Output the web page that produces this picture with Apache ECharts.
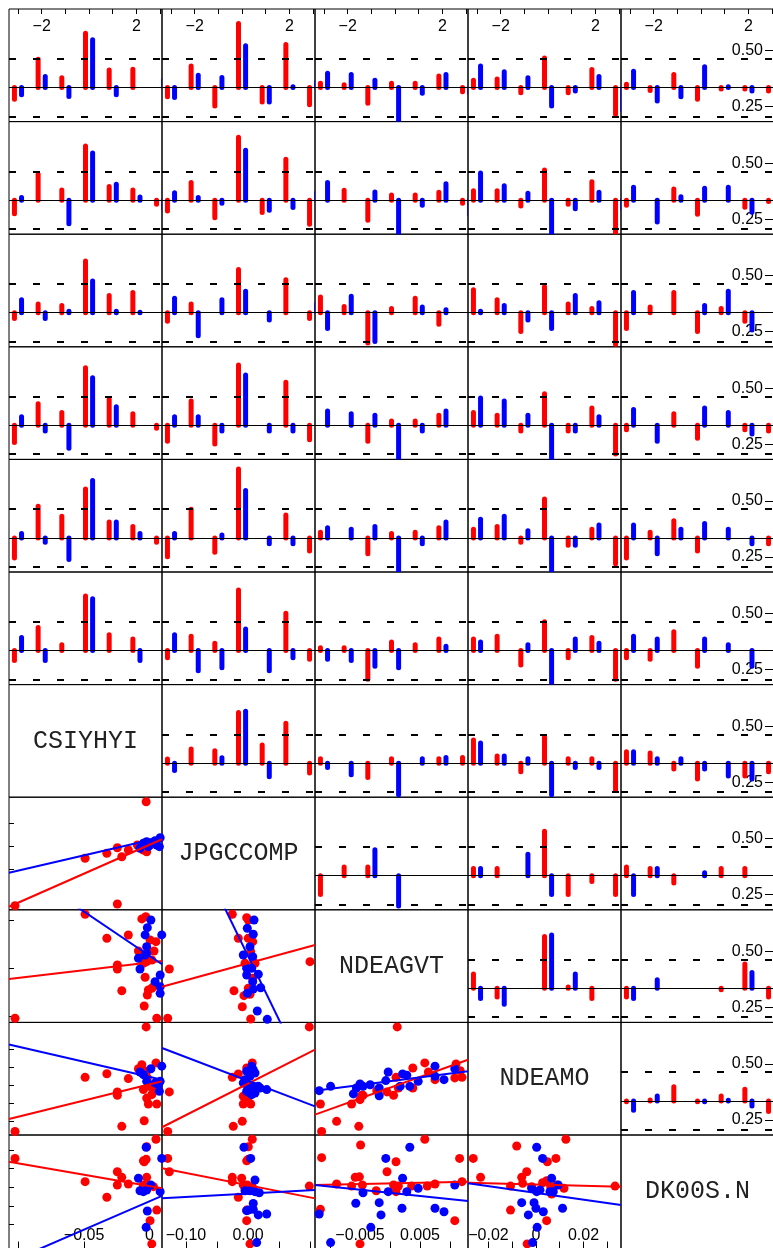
<!DOCTYPE html>
<html>
<head>
<meta charset="utf-8">
<script src="https://cdn.jsdelivr.net/npm/echarts@6/dist/echarts.min.js"></script>
<style>
  html, body { margin: 0; padding: 0; background: #fff; }
  #chart { width: 773px; height: 1248px; }
</style>
</head>
<body>
<div id="chart"></div>
<script>
// ---- cross-correlation sticks, lags -3..3 (red = first sample, blue = second sample) ----
const lags = [-3, -2, -1, 0, 1, 2, 3];

const r1c1Red = [-0.41, 0.98, 0.34, 1.89, 0.61, 0.64, 0.0];
const r1c1Blue = [-0.25, 0.38, -0.31, 1.66, -0.25, 0.0, 0.26];
const r1c2Red = [-0.32, 0.75, -0.64, 2.23, -0.5, 1.5, -0.6];
const r1c2Blue = [-0.35, 0.43, 0.35, 1.45, -0.5, 0.03, 0.2];
const r1c3Red = [0.15, 0.1, -0.55, 0.15, 0.15, 0.4, -0.15];
const r1c3Blue = [0.5, 0.45, 0.25, -1.3, -0.2, 0.45, -0.2];
const r1c4Red = [0.25, 0.3, -0.18, 1.03, -0.18, 0.63, -0.93];
const r1c4Blue = [0.75, 0.55, 0.34, -0.64, -0.12, 0.38, -0.8];
const r1c5Red = [0.11, -0.1, 0.45, -0.41, -0.05, -0.05, -0.12];
const r1c5Blue = [0.57, -0.47, -0.32, 0.72, 0.03, -0.12, 0.0];

const r2c1Red = [-0.47, 0.9, 0.35, 1.88, 0.47, 0.35, -0.14];
const r2c1Blue = [0.09, 0.0, -0.82, 1.64, 0.55, 0.11, -0.3];
const r2c2Red = [-0.38, 0.61, -0.61, 2.19, -0.43, 1.42, -0.84];
const r2c2Blue = [0.26, 0.09, -0.11, 1.73, -0.35, -0.26, 0.26];
const r2c3Red = [0.0, 0.34, -0.7, 0.18, 0.18, 0.27, -0.11];
const r2c3Blue = [0.61, 0.0, 0.28, -1.3, -0.18, 0.57, -0.5];
const r2c4Red = [0.33, 0.33, -0.2, 1.05, -0.14, 0.64, -1.3];
const r2c4Blue = [0.94, 0.5, 0.24, -1.3, -0.3, 0.27, -0.3];
const r2c5Red = [-0.18, 0.0, 0.39, -0.49, 0.0, -0.25, -0.05];
const r2c5Blue = [0.45, -0.76, 0.12, 0.41, 0.45, -0.42, 0.0];

const r3c1Red = [-0.2, 0.3, 0.25, 1.8, 0.6, 0.7, 0.0];
const r3c1Blue = [0.45, -0.2, 0.05, 1.1, 0.05, 0.02, 0.0];
const r3c2Red = [-0.3, 0.3, 0.0, 1.5, 0.0, 1.15, -0.2];
const r3c2Blue = [0.5, -0.8, 0.45, 0.75, -0.25, 0.0, 0.3];
const r3c3Red = [0.55, 0.22, -1.05, 0.15, 0.5, -0.4, 0.0];
const r3c3Blue = [-0.55, 0.57, -1.0, 0.0, 0.2, 0.1, 0.0];
const r3c4Red = [0.8, 0.45, -0.65, 0.9, 0.3, 0.15, -1.1];
const r3c4Blue = [0.05, 0.25, -0.25, -0.55, 0.6, 0.35, 0.0];
const r3c5Red = [-0.55, 0.2, 0.7, -0.65, 0.15, -0.3, 0.0];
const r3c5Blue = [0.7, 0.0, 0.0, 0.25, 0.75, -0.6, 0.0];

const r4c1Red = [-0.6, 0.75, 0.45, 2.0, 0.9, 0.4, -0.1];
const r4c1Blue = [0.3, -0.2, -0.8, 1.65, 0.65, 0.0, 0.0];
const r4c2Red = [-0.55, 0.85, -0.65, 2.1, 0.0, 1.5, -0.5];
const r4c2Blue = [0.3, 0.3, -0.2, 1.75, -0.2, -0.2, 0.0];
const r4c3Red = [0.0, 0.0, -0.55, 0.15, 0.15, 0.35, 0.0];
const r4c3Blue = [0.5, 0.4, 0.35, -1.3, -0.2, 0.5, 0.0];
const r4c4Red = [0.45, 0.35, -0.2, 1.1, -0.2, 0.6, -1.0];
const r4c4Blue = [0.95, 0.85, 0.35, -1.3, -0.2, 0.3, 0.0];
const r4c5Red = [-0.15, 0.0, 0.4, -0.45, 0.0, -0.15, -0.2];
const r4c5Blue = [0.55, -0.55, 0.0, 0.6, 0.45, -0.3, 0.0];

const r5c1Red = [-0.7, 1.1, 0.75, 1.7, 0.55, 0.4, -0.15];
const r5c1Blue = [0.15, -0.15, -0.75, 2.0, 0.55, 0.15, 0.0];
const r5c2Red = [-0.65, 1.0, -0.5, 2.4, 0.0, 0.8, -0.45];
const r5c2Blue = [0.15, 0.0, 0.1, 1.65, -0.2, -0.2, 0.0];
const r5c3Red = [0.2, 0.0, -0.55, 0.15, 0.2, 0.35, 0.0];
const r5c3Blue = [0.35, 0.3, 0.4, -1.3, -0.2, 0.55, 0.0];
const r5c4Red = [0.3, 0.4, -0.15, 1.35, -0.25, 0.3, -0.9];
const r5c4Blue = [0.65, 0.75, 0.25, -1.3, -0.25, 0.45, 0.0];
const r5c5Red = [-0.7, 0.2, 0.6, -0.45, 0.0, 0.0, -0.2];
const r5c5Blue = [0.45, -0.55, 0.3, 0.5, 0.3, -0.2, 0.0];

const r6c1Red = [-0.35, 0.8, 0.2, 1.9, 0.55, 0.4, 0.0];
const r6c1Blue = [0.45, -0.35, 0.0, 1.8, 0.0, -0.35, 0.0];
const r6c2Red = [-0.25, 0.5, 0.25, 2.1, 0.0, 1.3, -0.3];
const r6c2Blue = [0.55, -0.7, -0.6, 0.75, -0.7, -0.25, 0.0];
const r6c3Red = [0.1, 0.1, -1.0, 0.3, 0.2, 0.4, 0.0];
const r6c3Blue = [-0.3, -0.35, -0.55, -0.6, 0.0, 0.15, 0.0];
const r6c4Red = [0.4, 0.5, -0.5, 1.0, -0.25, 0.45, -1.0];
const r6c4Blue = [0.3, 0.0, 0.2, -1.3, 0.4, 0.25, 0.0];
const r6c5Red = [-0.25, -0.3, 0.65, -0.55, 0.0, 0.0, 0.0];
const r6c5Blue = [0.5, 0.4, 0.0, 0.4, 0.2, -0.55, 0.0];

const r7c2Red = [0.14, 0.49, 0.43, 1.76, 0.63, 1.39, -0.34];
const r7c2Blue = [-0.26, 0.0, 0.19, 1.8, -0.47, 0.0, 0.0];
const r7c3Red = [0.15, 0.0, -0.5, 0.15, 0.0, 0.15, 0.2];
const r7c3Blue = [-0.15, -0.4, 0.0, -1.1, 0.15, 0.2, 0.0];
const r7c4Red = [0.8, 0.25, -0.3, 0.9, 0.15, 0.15, -0.95];
const r7c4Blue = [0.7, 0.25, 0.15, -1.1, -0.15, -0.15, 0.0];
const r7c5Red = [0.4, 0.35, -0.2, -0.55, 0.0, -0.45, -0.3];
const r7c5Blue = [0.4, 0.15, 0.15, -0.2, -0.45, -0.55, 0.0];

const r8c3Red = [-0.65, 0.3, 0.3, 0.0, 0.0, 0.0, 0.0];
const r8c3Blue = [0.0, 0.0, 0.9, -1.05, 0.0, 0.0, 0.0];
const r8c4Red = [0.25, 0.25, 0.0, 1.55, -0.65, -0.2, -0.65];
const r8c4Blue = [0.25, 0.0, 0.75, -0.65, 0.0, 0.0, 0.0];
const r8c5Red = [0.3, 0.25, -0.25, 0.0, 0.25, 0.25, 0.0];
const r8c5Blue = [-0.65, 0.25, 0.0, 0.1, 0.0, 0.0, 0.0];

const r9c4Red = [0.5, -0.3, 0.0, 1.8, 0.05, -0.35, 0.0];
const r9c4Blue = [-0.35, -0.55, 0.0, 1.85, 0.5, 0.0, 0.0];
const r9c5Red = [-0.3, 0.0, 0.0, 0.0, -0.05, 0.85, -0.3];
const r9c5Blue = [-0.35, 0.3, 0.0, 0.0, 0.0, 0.55, 0.0];

const r10c5Red = [-0.03, 0.03, 0.49, -0.03, 0.17, 0.41, -0.37];
const r10c5Blue = [-0.32, 0.17, 0.0, -0.03, 0.02, -0.18, 0.0];

// ---- scatter panels: [x, y] pairs and fitted lines [x0, y0, x1, y1] (red, blue) ----
const s8c1Red = [[-0.0026,0.0963],[-0.1027,-0.1298],[-0.0246,-0.1261],[-0.0492,-0.0267],[-0.0326,-0.0159],[-0.0246,-0.0037],[-0.0212,-0.0233],[-0.0162,-0.0087],[-0.0093,0.0022],[-0.0047,-0.0087],[-0.0022,-0.0124],[0.0004,0.0022],[-0.0073,-0.0015]];
const s8c1Blue = [[-0.0047,0.0059],[-0.0022,0.0093],[0.001,0.0072],[0.0042,0.0115],[0.0081,0.018],[0.0075,-0.0015],[0.0055,0.0022],[-0.0073,-0.005],[-0.0009,-0.0015]];
const s8c1Fit = [[-0.1073,-0.132,0.0095,0.0146],[-0.1073,-0.058,0.0095,0.0189]];

const s9c1Red = [[-0.1027,-0.01035],[-0.0492,0.01118],[-0.0326,0.00621],[-0.0162,0.00689],[-0.0246,0.00068],[-0.0246,-0.00014],[-0.0212,-0.00464],[-0.0059,0.01021],[-0.0029,0.01068],[0.0004,0.00586],[0.0049,0.00551],[0.0034,0.00358],[-0.0085,0.00358],[-0.0047,0.00104],[-0.0022,0.00137],[0.0017,0.00172],[-0.0034,-0.00186],[-0.0009,-0.00449],[0.0017,-0.00414],[-0.0017,-0.00553],[0.003,-0.00381],[-0.0041,-0.0078],[0.0055,-0.01035]];
const s9c1Blue = [[0.001,0.01],[-0.0017,0.0084],[-0.0034,0.0069],[-0.0022,0.00447],[-0.0034,0.00275],[-0.0085,0.00207],[-0.0022,0.00311],[-0.0073,-0.00014],[0.0093,0.0069],[0.0081,-0.00139],[0.0042,-0.00277],[0.0081,-0.00381],[0.0081,-0.00518]];
const s9c1Fit = [[-0.1073,-0.00222,0.0095,0.00151],[-0.1073,0.0222,0.0095,0.00083]];

const s9c2Red = [[-0.1269,-0.00014],[-0.1295,-0.01035],[-0.0253,0.01118],[-0.0021,0.01048],[0.0005,0.01],[-0.0156,0.00621],[0.0005,0.00621],[0.0076,0.00551],[0.0044,0.00344],[-0.0048,0.00104],[0.0113,0.00104],[-0.0226,-0.00464],[-0.0065,-0.00567],[0.0005,-0.00414],[0.0032,-0.00538],[-0.0092,-0.00795],[0.0044,-0.0105],[0.1,0.00137],[0.0076,-0.00207]];
const s9c2Blue = [[0.0097,0.01],[-0.0011,0.00828],[0.0085,0.00704],[0.0032,0.00447],[-0.0076,0.00275],[0.0076,0.0024],[-0.0021,0.0],[0.006,0.0],[-0.0021,-0.00139],[0.0166,-0.00124],[0.0076,-0.00277],[0.0205,-0.00402],[0.0085,-0.00429],[-0.0011,-0.00518],[0.015,-0.00884],[0.0311,-0.01056]];
const s9c2Fit = [[-0.1387,-0.00381,0.1081,0.00482],[-0.1387,0.0392,0.1081,-0.026]];

const s10c1Red = [[-0.0026,0.0324],[-0.1027,-0.0256],[-0.0492,0.0044],[-0.0326,0.0064],[-0.0162,0.0037],[-0.0246,-0.0037],[-0.0246,-0.0056],[-0.0212,-0.0228],[-0.0041,-0.0197],[-0.0059,0.0114],[0.0049,0.0124],[-0.0085,0.0092],[-0.0022,0.0078],[-0.0047,-0.0024],[-0.0009,-0.0006],[0.003,-0.0024],[-0.0022,-0.0071],[0.0017,-0.0052],[-0.0009,-0.0104],[0.0055,-0.0104],[-0.0017,0.0041]];
const s10c1Blue = [[-0.0073,0.0074],[-0.0047,0.0059],[0.001,0.0092],[-0.0022,0.0022],[0.0042,0.0013],[0.0067,0.0003],[0.0093,0.0106],[0.0075,-0.0033],[0.0081,0.0022]];
const s10c1Fit = [[-0.1073,-0.0187,0.0095,0.0022],[-0.1073,0.0226,0.0095,0.0031]];

const s10c2Red = [[0.0989,0.0324],[-0.1269,-0.0037],[-0.1295,-0.0256],[-0.0253,0.0044],[-0.0156,0.0063],[-0.0237,-0.0228],[-0.0092,-0.02],[0.0069,0.0124],[-0.0021,0.0096],[0.0032,0.0078],[-0.0076,-0.0061],[0.0005,-0.0067],[-0.0076,-0.0104],[0.0044,-0.0104],[-0.0021,0.0003]];
const s10c2Blue = [[0.006,0.0106],[-0.0021,0.0078],[0.0085,0.0087],[-0.0048,0.0031],[0.0032,0.005],[0.0113,0.0068],[-0.0076,0.0013],[0.0005,0.0003],[0.0085,-0.0006],[0.0166,-0.0006],[0.0302,-0.0024],[0.0194,-0.0015],[0.0032,-0.0043],[-0.0021,-0.0033],[0.0113,-0.0043],[0.006,-0.0052]];
const s10c2Fit = [[-0.1387,-0.0233,0.1081,0.0198],[-0.1387,0.0207,0.1081,-0.0117]];

const s10c3Red = [[0.0012,0.0324],[-0.0114,-0.0256],[-0.0116,-0.0104],[-0.0089,-0.02],[-0.0052,-0.0228],[-0.0064,-0.0104],[-0.0047,-0.0056],[-0.005,-0.008],[-0.0045,-0.0056],[-0.0022,-0.003],[-0.0005,-0.0037],[0.0006,-0.0056],[0.001,0.0044],[0.0014,-0.0015],[0.0038,0.0096],[0.0038,-0.0015],[0.0058,0.0124],[0.0064,0.0074],[0.0075,0.0031],[0.011,0.0118],[0.0108,0.0041],[0.012,0.0044],[0.0117,0.0081]];
const s10c3Blue = [[-0.0118,-0.003],[-0.0099,-0.0006],[-0.0061,-0.0048],[-0.0056,-0.0015],[-0.005,0.0007],[-0.0045,-0.0006],[-0.0033,0.0003],[-0.0018,-0.0015],[-0.0018,-0.0058],[-0.0007,0.0026],[-0.0003,0.0074],[0.0021,0.0063],[0.0028,0.0056],[0.0033,-0.0006],[0.0047,0.0022],[0.0075,0.0106],[0.0075,0.005],[0.009,0.0031],[0.0108,0.0092],[0.0017,-0.0006]];
const s10c3Fit = [[-0.0125,-0.0163,0.013,0.0142],[-0.0125,-0.003,0.013,0.0078]];

const s11c1Red = [[-0.1027,0.0155],[0.0049,0.0258],[-0.0022,0.0218],[-0.0047,0.0142],[-0.0026,0.015],[-0.0041,0.0137],[-0.0246,0.0083],[-0.0212,0.0053],[-0.0492,0.003],[-0.0246,0.0012],[-0.0162,0.0017],[-0.0022,0.0053],[-0.0047,0.0012],[-0.0009,0.0012],[0.003,0.0003],[-0.0326,-0.0054],[0.0055,-0.0123],[0.0004,-0.018],[0.0017,-0.0305]];
const s11c1Blue = [[-0.0026,0.0215],[0.0093,0.0155],[-0.0085,0.0048],[0.001,0.0012],[-0.0073,-0.0019],[-0.0047,-0.0024],[-0.0022,-0.0015],[0.0081,-0.0024],[0.0098,-0.0101],[-0.0017,-0.0128],[-0.0026,-0.0216]];
const s11c1Fit = [[-0.1073,0.0137,0.0095,-0.0006],[-0.1073,-0.0403,0.0095,-0.0047]];

const s11c2Red = [[-0.1295,0.0155],[-0.1269,0.0083],[0.0069,0.0258],[0.0005,0.0218],[-0.0021,0.0142],[0.0005,0.015],[-0.0253,0.0053],[-0.0102,0.0048],[-0.0253,0.003],[-0.0076,0.0012],[-0.0011,0.0012],[-0.0156,-0.0054],[0.0069,0.0003],[-0.0021,-0.0123],[-0.0021,-0.018],[0.0032,-0.0305],[0.0989,0.0006]];
const s11c2Blue = [[-0.0065,0.0215],[0.0044,0.0155],[0.0113,0.0039],[-0.0048,-0.0019],[0.0032,-0.0019],[0.0113,-0.0024],[0.0182,-0.003],[0.0085,-0.0087],[0.0005,-0.0123],[0.0085,-0.0119],[0.0166,-0.0149],[0.0302,-0.0144],[-0.0021,-0.0126],[0.014,-0.0298]];
const s11c2Fit = [[-0.1387,0.0102,0.1081,-0.006],[-0.1387,-0.006,0.1081,-0.0015]];

const s11c3Red = [[-0.0114,0.0159],[-0.0116,-0.0119],[-0.0049,0.0227],[0.0058,0.0258],[0.001,0.0137],[-0.0005,0.0083],[-0.0058,0.0053],[-0.0051,0.0056],[-0.0089,0.0017],[-0.0064,0.0006],[-0.0046,0.0012],[-0.0023,-0.0019],[0.0006,0.0012],[0.0014,0.0006],[0.001,-0.0024],[0.0036,0.0006],[0.0062,0.0006],[0.0075,0.0017],[0.0116,0.0155],[0.012,0.003],[0.0108,-0.018],[-0.005,-0.0305]];
const s11c3Blue = [[0.0033,0.0215],[-0.0007,0.0155],[0.0021,0.0048],[-0.0045,-0.003],[-0.0003,-0.0024],[0.0028,-0.0024],[0.0047,-0.0006],[-0.0018,-0.0083],[-0.0057,-0.0086],[0.002,-0.0113],[-0.0015,-0.0149],[0.0075,-0.0113],[0.009,-0.0132],[0.0108,0.0012],[-0.0032,-0.0216],[-0.0099,-0.0298],[-0.0118,-0.0144]];
const s11c3Fit = [[-0.0125,0.0012,0.013,0.003],[-0.0125,0.0012,0.013,-0.0074]];

const s11c4Red = [[-0.0264,0.0155],[-0.0233,0.0053],[-0.0081,0.0222],[0.0126,0.0258],[0.0048,0.0137],[0.0084,0.0155],[-0.0039,0.0083],[-0.006,0.0053],[-0.0107,0.0006],[-0.0056,0.0021],[-0.0018,0.0003],[0.0028,0.0024],[0.0045,0.0035],[0.0062,0.0003],[0.0087,0.0012],[0.0118,-0.0006],[0.0066,-0.0037],[-0.0107,-0.0123],[0.0045,-0.018],[0.0333,0.0006],[-0.0037,-0.0305]];
const s11c4Blue = [[0.0003,0.0215],[0.0028,0.0155],[0.0066,0.0048],[0.0094,0.0012],[0.0073,-0.0024],[0.0059,-0.0024],[0.0003,-0.0024],[-0.0018,-0.0006],[-0.006,-0.0083],[-0.0008,-0.0083],[0.0,-0.0113],[0.0031,-0.0132],[-0.0032,-0.0149],[0.0112,-0.0113],[0.0017,-0.0015],[0.0005,-0.0216],[-0.0014,-0.0298]];
const s11c4Fit = [[-0.0286,0.0024,0.0358,0.0003],[-0.0286,0.0021,0.0358,-0.0096]];

// ---- variable names on the diagonal ----
const diagNames = ['CSIYHYI', 'JPGCCOMP', 'NDEAGVT', 'NDEAMO', 'DK00S.N'];

// ---- axis ticks and labels ----
const topLabelVals = [-2, 2];
const topLabelText = ['\u22122', '2'];
const rightLabelVals = [0.25, 0.5];
const rightLabelText = ['0.25', '0.50'];
const colTicks = [[-0.1, -0.05, 0], [-0.1, -0.05, 0, 0.05, 0.1], [-0.01, -0.005, 0, 0.005, 0.01], [-0.02, -0.01, 0, 0.01, 0.02, 0.03]];
const colLabelVals = [[-0.05, 0], [-0.1, 0], [-0.005, 0.005], [-0.02, 0, 0.02]];
const colLabelText = [['\u22120.05', '0'], ['\u22120.10', '0.00'], ['\u22120.005', '0.005'], ['\u22120.02', '0', '0.02']];
const rowTicks8 = [-0.05, 0, 0.05];
const rowTicks9 = [-0.01, 0, 0.01];
const rowTicks10 = [-0.02, -0.01, 0, 0.01, 0.02];
const rowTicks11 = [-0.02, -0.01, 0, 0.01, 0.02];

// ---- panel tables built from the arrays above ----
const barPanels = [
  [1,1,r1c1Red,r1c1Blue],[1,2,r1c2Red,r1c2Blue],[1,3,r1c3Red,r1c3Blue],[1,4,r1c4Red,r1c4Blue],[1,5,r1c5Red,r1c5Blue],
  [2,1,r2c1Red,r2c1Blue],[2,2,r2c2Red,r2c2Blue],[2,3,r2c3Red,r2c3Blue],[2,4,r2c4Red,r2c4Blue],[2,5,r2c5Red,r2c5Blue],
  [3,1,r3c1Red,r3c1Blue],[3,2,r3c2Red,r3c2Blue],[3,3,r3c3Red,r3c3Blue],[3,4,r3c4Red,r3c4Blue],[3,5,r3c5Red,r3c5Blue],
  [4,1,r4c1Red,r4c1Blue],[4,2,r4c2Red,r4c2Blue],[4,3,r4c3Red,r4c3Blue],[4,4,r4c4Red,r4c4Blue],[4,5,r4c5Red,r4c5Blue],
  [5,1,r5c1Red,r5c1Blue],[5,2,r5c2Red,r5c2Blue],[5,3,r5c3Red,r5c3Blue],[5,4,r5c4Red,r5c4Blue],[5,5,r5c5Red,r5c5Blue],
  [6,1,r6c1Red,r6c1Blue],[6,2,r6c2Red,r6c2Blue],[6,3,r6c3Red,r6c3Blue],[6,4,r6c4Red,r6c4Blue],[6,5,r6c5Red,r6c5Blue],
  [7,2,r7c2Red,r7c2Blue],[7,3,r7c3Red,r7c3Blue],[7,4,r7c4Red,r7c4Blue],[7,5,r7c5Red,r7c5Blue],
  [8,3,r8c3Red,r8c3Blue],[8,4,r8c4Red,r8c4Blue],[8,5,r8c5Red,r8c5Blue],
  [9,4,r9c4Red,r9c4Blue],[9,5,r9c5Red,r9c5Blue],
  [10,5,r10c5Red,r10c5Blue]
];
const scatterPanels = [
  [8,1,s8c1Red,s8c1Blue,s8c1Fit],
  [9,1,s9c1Red,s9c1Blue,s9c1Fit],[9,2,s9c2Red,s9c2Blue,s9c2Fit],
  [10,1,s10c1Red,s10c1Blue,s10c1Fit],[10,2,s10c2Red,s10c2Blue,s10c2Fit],[10,3,s10c3Red,s10c3Blue,s10c3Fit],
  [11,1,s11c1Red,s11c1Blue,s11c1Fit],[11,2,s11c2Red,s11c2Blue,s11c2Fit],[11,3,s11c3Red,s11c3Blue,s11c3Fit],[11,4,s11c4Red,s11c4Blue,s11c4Fit]
];
const diagPanels = [[7,1],[8,2],[9,3],[10,4],[11,5]];
const rowTickTable = { 8: rowTicks8, 9: rowTicks9, 10: rowTicks10, 11: rowTicks11 };

// ---- layout and scales ----
// The last column and the last row run past the canvas edge, so their outer
// frame lines fall off-page; their scales are widened by the same amount.
const LEFT0 = 9, TOP0 = 9, CELL_W = 153, CELL_H = 112.6, EDGE_EXTRA = 3;
const RED = '#ff0000', BLUE = '#0000ff';
const PAIR_SHIFT = 0.15;
const LAG_PX = 23.67;                        // pixels per lag unit
const ROW11_PX = 1860;                       // pixels per unit on the last row
const BAR_X = [-3.38, 3.08];
const BAR_X_LAST = [-3.38, 3.08 + EDGE_EXTRA / LAG_PX];
const BAR_Y = [-1.184, 2.73];
const RIGHT_Y = [0.1826, 0.6853];
const COL_RANGE = [[-0.1073, 0.0095], [-0.1387, 0.1081], [-0.0125, 0.013], [-0.0286, 0.0358]];
const ROW_RANGE = { 8: [-0.1387, 0.1061], 9: [-0.0112, 0.0121], 10: [-0.0276, 0.0349], 11: [-0.0325 - EDGE_EXTRA / ROW11_PX, 0.0281] };
const TXT = { fontFamily: '"Liberation Sans", Arial, sans-serif', fontSize: 16, color: '#000' };

const option = { animation: false, backgroundColor: '#ffffff', grid: [], xAxis: [], yAxis: [], series: [], graphic: [] };

function labelFormatter(vals, texts) {
  return function (v) {
    for (let i = 0; i < vals.length; i++) if (Math.abs(vals[i] - v) < 1e-9) return texts[i];
    return '';
  };
}
function addPanel(r, c) {
  option.grid.push({
    left: LEFT0 + CELL_W * (c - 1), top: TOP0 + CELL_H * (r - 1),
    width: CELL_W + (c === 5 ? EDGE_EXTRA : 0), height: CELL_H + (r === 11 ? EDGE_EXTRA : 0),
    outerBoundsMode: 'none', containLabel: false,
    show: true, borderColor: '#000', borderWidth: 1, backgroundColor: 'transparent'
  });
  return option.grid.length - 1;
}
// axes sit on the panel frame (never on the other axis' zero)
function bareAxis(gi, range, extra) {
  return Object.assign({
    type: 'value', gridIndex: gi, min: range[0], max: range[1],
    axisLine: { show: false, onZero: false }, axisTick: { show: false }, axisLabel: { show: false }, splitLine: { show: false }
  }, extra || {});
}
function renderStick(params, api) {
  const x = api.value(0), v = api.value(1);
  const p0 = api.coord([x, 0]), p1 = api.coord([x, v]);
  return {
    type: 'line',
    shape: { x1: p0[0], y1: p0[1], x2: p1[0], y2: p1[1] },
    style: { stroke: api.value(2) === 0 ? RED : BLUE, lineWidth: 5, lineCap: 'round' }
  };
}

barPanels.forEach(function ([r, c, red, blue]) {
  const gi = addPanel(r, c);
  const xi = option.xAxis.length;
  const xa = bareAxis(gi, c === 5 ? BAR_X_LAST : BAR_X);
  if (r === 1) {
    xa.position = 'top';
    xa.axisTick = { show: true, inside: true, length: 5, customValues: lags, lineStyle: { color: '#000', width: 1 } };
    xa.axisLabel = Object.assign({ show: true, inside: true, margin: 10, customValues: topLabelVals,
      formatter: labelFormatter(topLabelVals, topLabelText) }, TXT);
  }
  option.xAxis.push(xa);
  const yi = option.yAxis.length;
  option.yAxis.push(bareAxis(gi, BAR_Y));
  if (c === 5) {
    option.yAxis.push(bareAxis(gi, RIGHT_Y, {
      position: 'right',
      axisTick: { show: true, inside: true, length: 9 + EDGE_EXTRA, customValues: rightLabelVals, lineStyle: { color: '#000', width: 1 } },
      axisLabel: Object.assign({ show: true, inside: true, margin: 11 + EDGE_EXTRA, customValues: rightLabelVals,
        formatter: labelFormatter(rightLabelVals, rightLabelText) }, TXT)
    }));
  }
  const data = [];
  lags.forEach(function (k, i) {
    data.push([k - PAIR_SHIFT, red[i], 0]);
    data.push([k + PAIR_SHIFT, blue[i], 1]);
  });
  option.series.push({
    type: 'custom', xAxisIndex: xi, yAxisIndex: yi, clip: true, silent: true,
    renderItem: renderStick, data: data,
    markLine: {
      silent: true, symbol: ['none', 'none'], label: { show: false }, animation: false,
      data: [
        { yAxis: 0, lineStyle: { color: '#000', width: 1, type: 'solid' } },
        { yAxis: 1, lineStyle: { color: '#000', width: 2, type: [7, 17] } },
        { yAxis: -1, lineStyle: { color: '#000', width: 2, type: [7, 17] } }
      ]
    }
  });
});

scatterPanels.forEach(function ([r, c, red, blue, fit]) {
  const gi = addPanel(r, c);
  const xi = option.xAxis.length;
  const xa = bareAxis(gi, COL_RANGE[c - 1]);
  if (r === 11) {
    xa.position = 'bottom';
    xa.axisTick = { show: true, inside: true, length: 6 + EDGE_EXTRA, customValues: colTicks[c - 1], lineStyle: { color: '#000', width: 1 } };
    xa.axisLabel = Object.assign({ show: true, inside: true, margin: 4 + EDGE_EXTRA, customValues: colLabelVals[c - 1],
      formatter: labelFormatter(colLabelVals[c - 1], colLabelText[c - 1]) }, TXT);
  }
  option.xAxis.push(xa);
  const yi = option.yAxis.length;
  const ya = bareAxis(gi, ROW_RANGE[r]);
  if (c === 1) {
    ya.position = 'left';
    ya.axisTick = { show: true, inside: true, length: 5, customValues: rowTickTable[r], lineStyle: { color: '#000', width: 1 } };
  }
  option.yAxis.push(ya);
  const common = { xAxisIndex: xi, yAxisIndex: yi, silent: true };
  option.series.push(Object.assign({ type: 'scatter', symbol: 'circle', symbolSize: 9, itemStyle: { color: RED, opacity: 1 }, data: red, z: 2 }, common));
  option.series.push(Object.assign({ type: 'scatter', symbol: 'circle', symbolSize: 9, itemStyle: { color: BLUE, opacity: 1 }, data: blue, z: 3 }, common));
  [RED, BLUE].forEach(function (col, k) {
    const f = fit[k];
    option.series.push(Object.assign({
      type: 'line', symbol: 'none', clip: true, z: 4,
      lineStyle: { color: col, width: 2 },
      data: [[f[0], f[1]], [f[2], f[3]]]
    }, common));
  });
});

diagPanels.forEach(function ([r, c], i) {
  const gi = addPanel(r, c);
  option.xAxis.push(bareAxis(gi, [0, 1]));
  option.yAxis.push(bareAxis(gi, [0, 1]));
  option.graphic.push({
    type: 'text', silent: true,
    x: LEFT0 + CELL_W * (c - 1) + CELL_W / 2,
    y: TOP0 + CELL_H * (r - 1) + CELL_H / 2,
    style: {
      text: diagNames[i], fill: '#222',
      font: '25px "Liberation Mono", "Courier New", monospace',
      textAlign: 'center', textVerticalAlign: 'middle'
    }
  });
});

const chart = echarts.init(document.getElementById('chart'), null, { renderer: 'canvas' });
chart.setOption(option);
</script>
</body>
</html>
